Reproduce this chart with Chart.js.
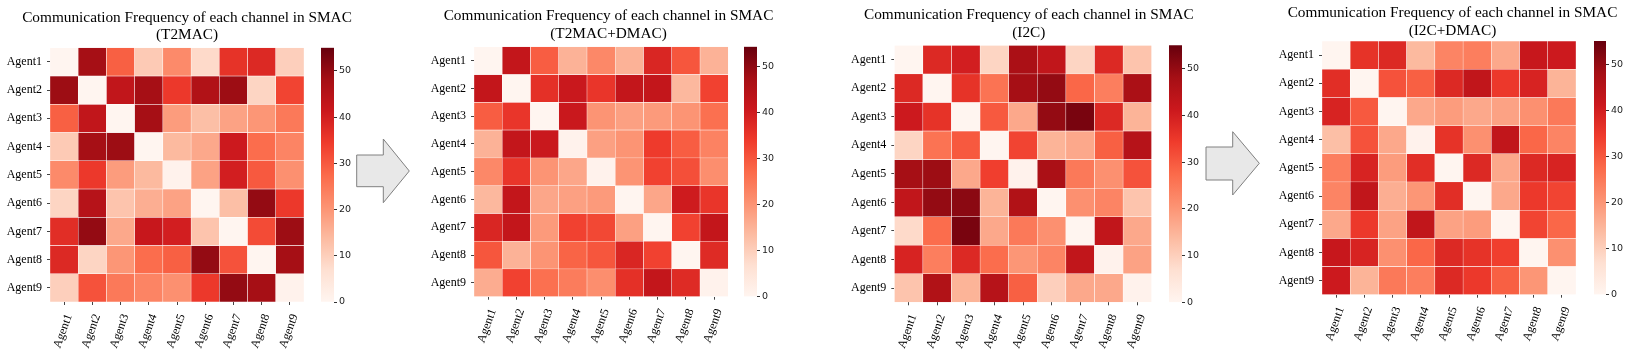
<!DOCTYPE html>
<html><head><meta charset="utf-8">
<script src="https://cdn.jsdelivr.net/npm/chart.js@4.4.0/dist/chart.umd.min.js"></script>
<style>
html,body{margin:0;padding:0;background:#fff;}
body{width:1628px;height:353px;position:relative;overflow:hidden;}
canvas{position:absolute;top:0;}
svg{position:absolute;left:0;top:0;}
</style></head><body>
<svg width="1628" height="353">
  <polygon points="356.7,155 383.3,155 383.3,139 409.3,171 383.3,202.7 383.3,186.7 356.7,186.7" fill="#e8e8e8" stroke="#808080" stroke-width="1"/>
  <polygon points="1206,147 1232.7,147 1232.7,131.7 1259.3,163.3 1232.7,195 1232.7,180 1206,180" fill="#e8e8e8" stroke="#808080" stroke-width="1"/>
</svg>
<canvas id="h0"></canvas><canvas id="c0"></canvas>
<canvas id="h1"></canvas><canvas id="c1"></canvas>
<canvas id="h2"></canvas><canvas id="c2"></canvas>
<canvas id="h3"></canvas><canvas id="c3"></canvas>
<script>
// ---------------- data ----------------
const agents = ['Agent1','Agent2','Agent3','Agent4','Agent5','Agent6','Agent7','Agent8','Agent9'];
const titleLine = 'Communication Frequency of each channel in SMAC';
const methods = ['(T2MAC)', '(T2MAC+DMAC)', '(I2C)', '(I2C+DMAC)'];
const colorbarTicks = [0, 10, 20, 30, 40, 50];
const colorbarMax = [55, 54.2, 55, 55];

const t2mac = [
  [0, 48, 29, 11, 22, 8, 36, 38, 10],
  [49, 0, 43, 48, 35, 46, 49, 9, 33],
  [29, 43, 0, 48, 19, 13, 18, 20, 25],
  [11, 48, 49, 0, 14, 17, 41, 27, 23],
  [22, 35, 19, 14, 1, 18, 40, 30, 21],
  [9, 45, 12, 16, 18, 0, 13, 50, 35],
  [37, 50, 17, 42, 40, 12, 0, 32, 49],
  [38, 9, 20, 27, 29, 50, 31, 0, 48],
  [10, 31, 25, 23, 21, 35, 50, 48, 1]
];
const t2macDmac = [
  [0, 42, 29, 15, 22, 15, 38, 30, 15],
  [42, 0, 36, 41, 35, 42, 42, 14, 33],
  [29, 35, 0, 41, 20, 18, 19, 20, 26],
  [15, 42, 41, 1, 18, 20, 34, 29, 23],
  [22, 35, 20, 17, 1, 20, 33, 31, 21],
  [14, 42, 17, 18, 19, 0, 17, 40, 35],
  [38, 42, 19, 33, 32, 18, 0, 33, 42],
  [30, 15, 20, 28, 30, 38, 33, 0, 37],
  [16, 33, 26, 24, 21, 36, 42, 37, 1]
];
const i2c = [
  [0, 38, 40, 9, 47, 43, 9, 38, 12],
  [38, 0, 36, 26, 48, 50, 28, 24, 47],
  [41, 36, 0, 30, 17, 50, 53, 38, 15],
  [9, 26, 30, 0, 33, 15, 17, 29, 45],
  [48, 49, 17, 34, 1, 47, 25, 21, 31],
  [43, 50, 51, 15, 46, 0, 21, 23, 12],
  [8, 27, 53, 17, 25, 21, 0, 43, 17],
  [39, 24, 38, 27, 20, 23, 43, 1, 18],
  [12, 46, 15, 45, 29, 10, 17, 17, 1]
];
const i2cDmac = [
  [0, 36, 38, 14, 23, 24, 17, 42, 41],
  [37, 0, 31, 29, 38, 43, 35, 39, 15],
  [39, 30, 0, 17, 19, 17, 18, 21, 25],
  [13, 31, 17, 1, 36, 21, 43, 28, 23],
  [24, 39, 19, 37, 0, 38, 17, 38, 39],
  [23, 43, 16, 20, 37, 0, 17, 35, 33],
  [17, 35, 18, 43, 18, 19, 0, 33, 28],
  [42, 39, 21, 28, 38, 36, 34, 0, 21],
  [41, 15, 25, 24, 38, 35, 29, 20, 0]
];
const matrices = [t2mac, t2macDmac, i2c, i2cDmac];

// ---------------- layout (positions only) ----------------
const H = 353;
const layout = [
  {cl:0,    cw:360, pl:50,     pr:304,    pt:47.7, pb:302,   bl:321, bw:12.3, tx:187,    ty:[17.5,35]},
  {cl:410,  cw:370, pl:474,    pr:728.3,  pt:46.7, pb:296.7, bl:744, bw:13,   tx:608.5,  ty:[16,33.5]},
  {cl:830,  cw:370, pl:894.3,  pr:1151.7, pt:45.3, pb:302.3, bl:1169, bw:13,  tx:1028.8, ty:[15,33]},
  {cl:1260, cw:368, pl:1322,   pr:1576,   pt:41,   pb:294.7, bl:1594, bw:12,  tx:1452.5, ty:[12.5,31]}
];

// matplotlib "Reds"
const REDS = ['#fff5f0','#fee0d2','#fcbba1','#fc9272','#fb6a4a','#ef3b2c','#cb181d','#a50f15','#67000d'];
function hex(c){return [parseInt(c.slice(1,3),16),parseInt(c.slice(3,5),16),parseInt(c.slice(5,7),16)];}
function reds(t){
  t = Math.max(0, Math.min(1, t));
  const p = t * (REDS.length - 1), i = Math.min(Math.floor(p), REDS.length - 2), f = p - i;
  const a = hex(REDS[i]), b = hex(REDS[i+1]);
  return 'rgb(' + a.map((v,k)=>Math.round(v + (b[k]-v)*f)).join(',') + ')';
}

const serif = '"Liberation Serif", "Times New Roman", serif';

function makeHeatmap(k){
  const L = layout[k], m = matrices[k], vmax = colorbarMax[k];
  const cv = document.getElementById('h'+k);
  cv.width = L.cw; cv.height = H; cv.style.left = L.cl + 'px';
  const datasets = m.map((row, r) => ({
    data: row.map(() => [r, r + 1]),
    backgroundColor: row.map(v => reds(v / vmax)),
    borderColor: '#ffffff',
    borderWidth: 0.5,
    borderSkipped: false,
    barPercentage: 1,
    categoryPercentage: 1,
    grouped: false
  }));
  const titlePlugin = {
    id: 'panelTitle' + k,
    afterDraw(chart){
      const ctx = chart.ctx;
      ctx.save();
      ctx.font = '15.3px ' + serif;
      ctx.fillStyle = '#000';
      ctx.textAlign = 'center';
      ctx.textBaseline = 'middle';
      ctx.fillText(titleLine, L.tx - L.cl, L.ty[0]);
      ctx.fillText(methods[k], L.tx - L.cl, L.ty[1]);
      ctx.restore();
    }
  };
  new Chart(cv, {
    type: 'bar',
    data: { labels: agents, datasets },
    options: {
      responsive: false, animation: false, devicePixelRatio: 1,
      layout: { padding: { left: 0, top: L.pt, right: L.cw - (L.pr - L.cl), bottom: 0 } },
      plugins: { legend: { display: false }, tooltip: { enabled: false }, title: { display: false } },
      scales: {
        x: {
          type: 'category', offset: true,
          grid: { display: true, drawOnChartArea: false, drawTicks: true, tickLength: 3, color: '#444', offset: false },
          border: { display: false },
          ticks: { autoSkip: false, minRotation: 70, maxRotation: 70, padding: 7, labelOffset: 5, color: '#000', font: { family: serif, size: 12 } },
          afterFit: s => { s.height = H - L.pb; }
        },
        y: {
          type: 'linear', min: 0, max: 9, reverse: true,
          afterBuildTicks: s => { s.ticks = agents.map((_, i) => ({ value: i + 0.5 })); },
          grid: { display: true, drawOnChartArea: false, drawTicks: true, tickLength: 3, color: '#444' },
          border: { display: false },
          ticks: { callback: (v, i) => agents[i], padding: 5, color: '#000', font: { family: serif, size: 12 } },
          afterFit: s => { s.width = L.pl - L.cl; }
        }
      }
    },
    plugins: [titlePlugin]
  });
}

function makeColorbar(k){
  const L = layout[k], vmax = colorbarMax[k];
  const cv = document.getElementById('c'+k);
  const axisW = 30;
  cv.width = Math.ceil(L.bw + axisW); cv.height = H; cv.style.left = L.bl + 'px';
  new Chart(cv, {
    type: 'bar',
    data: { labels: [''], datasets: [{
      data: [[0, vmax]],
      backgroundColor: (c) => {
        const a = c.chart.chartArea;
        if (!a) return REDS[4];
        const g = c.chart.ctx.createLinearGradient(0, a.bottom, 0, a.top);
        REDS.forEach((col, i) => g.addColorStop(i / (REDS.length - 1), col));
        return g;
      },
      borderWidth: 0, barPercentage: 1, categoryPercentage: 1
    }]},
    options: {
      responsive: false, animation: false, devicePixelRatio: 1,
      layout: { padding: { left: 0, right: 0, top: L.pt, bottom: H - L.pb } },
      plugins: { legend: { display: false }, tooltip: { enabled: false } },
      scales: {
        x: { display: false },
        y: {
          position: 'right', min: 0, max: vmax,
          afterBuildTicks: s => { s.ticks = colorbarTicks.map(v => ({ value: v })); },
          grid: { display: true, drawOnChartArea: false, drawTicks: true, tickLength: 3, color: '#333' },
          border: { display: false },
          ticks: { padding: 2, color: '#222', font: { family: '"DejaVu Sans", sans-serif', size: 9.5 } },
          afterFit: s => { s.width = axisW; }
        }
      }
    }
  });
}

for (let k = 0; k < 4; k++) { makeHeatmap(k); makeColorbar(k); }
</script>
</body></html>
